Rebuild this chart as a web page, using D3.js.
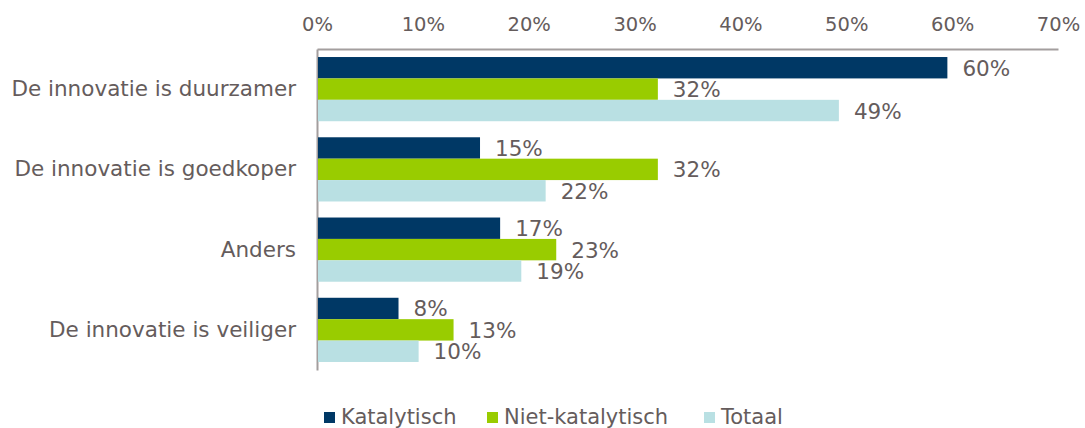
<!DOCTYPE html>
<html>
<head>
<meta charset="utf-8">
<script src="https://cdn.jsdelivr.net/npm/d3@7/dist/d3.min.js"></script>
<style>
  html, body { margin: 0; padding: 0; background: #fff; }
  svg { display: block; }
  svg text { font-family: "DejaVu Sans", Verdana, sans-serif; }
</style>
</head>
<body>
<svg id="chart" width="1085" height="428"></svg>
<script>
// Reasons given, share of respondents per group
const categories = [
  "De innovatie is duurzamer",
  "De innovatie is goedkoper",
  "Anders",
  "De innovatie is veiliger"
];
const seriesNames = ["Katalytisch", "Niet-katalytisch", "Totaal"];
const katalytisch = [0.5955, 0.154, 0.173, 0.077];
const nietKatalytisch = [0.322, 0.322, 0.226, 0.129];
const totaal = [0.493, 0.216, 0.193, 0.096];
const tickValues = [0, 0.1, 0.2, 0.3, 0.4, 0.5, 0.6, 0.7];

const seriesValues = [katalytisch, nietKatalytisch, totaal];
const colors = ["#003865", "#99cc00", "#b9e0e3"];
const textColor = "#655c5c";
const axisColor = "#a39e9e";

const svg = d3.select("#chart");
const margin = { left: 317, right: 27, top: 49, bottom: 58 };
const width = 1085 - margin.left - margin.right;
const height = 428 - margin.top - margin.bottom;

const g = svg.append("g").attr("transform", `translate(${margin.left},${margin.top})`);

const x = d3.scaleLinear().domain([0, 0.7]).range([0, width]);
const y0 = d3.scaleBand().domain(categories).range([0, height]).paddingInner(0.2).paddingOuter(0.1);
const y1 = d3.scaleBand().domain(seriesNames).range([0, y0.bandwidth()]);

// Top axis
const xAxis = g.append("g")
  .call(d3.axisTop(x).tickValues(tickValues).tickFormat(d3.format(".0%")).tickSize(0).tickPadding(18));
xAxis.attr("font-family", null);
xAxis.select(".domain").attr("stroke", axisColor).attr("stroke-width", 2);
xAxis.selectAll("text").attr("fill", textColor).style("font-size", "19.5px");

// Left axis
const yAxis = g.append("g")
  .call(d3.axisLeft(y0).tickSize(0).tickPadding(21));
yAxis.attr("font-family", null);
yAxis.select(".domain").attr("stroke", axisColor).attr("stroke-width", 2);
yAxis.selectAll("text").attr("fill", textColor).style("font-size", "21.5px");

// Bars and value labels
const rows = categories.map((c, i) => ({
  category: c,
  values: seriesNames.map((s, j) => ({ series: s, idx: j, value: seriesValues[j][i] }))
}));

const groups = g.selectAll(".group").data(rows).join("g")
  .attr("class", "group")
  .attr("transform", d => `translate(0,${y0(d.category)})`);

groups.selectAll("rect").data(d => d.values).join("rect")
  .attr("x", 1)
  .attr("y", d => y1(d.series))
  .attr("width", d => x(d.value) - 1)
  .attr("height", y1.bandwidth())
  .attr("fill", d => colors[d.idx]);

groups.selectAll("text.value").data(d => d.values).join("text")
  .attr("class", "value")
  .attr("x", d => x(d.value) + 15)
  .attr("y", d => y1(d.series) + y1.bandwidth() / 2 + 8)
  .attr("fill", textColor)
  .style("font-size", "21.5px")
  .text(d => d3.format(".0%")(d.value));

// Legend
const legendX = [324, 487, 704];
const legend = svg.append("g").selectAll("g").data(seriesNames).join("g")
  .attr("transform", (d, i) => `translate(${legendX[i]},0)`);
legend.append("rect")
  .attr("x", 0).attr("y", 412).attr("width", 11).attr("height", 11)
  .attr("fill", (d, i) => colors[i]);
legend.append("text")
  .attr("x", 17).attr("y", 424)
  .attr("fill", textColor)
  .style("font-size", "21px")
  .text(d => d);
</script>
</body>
</html>
